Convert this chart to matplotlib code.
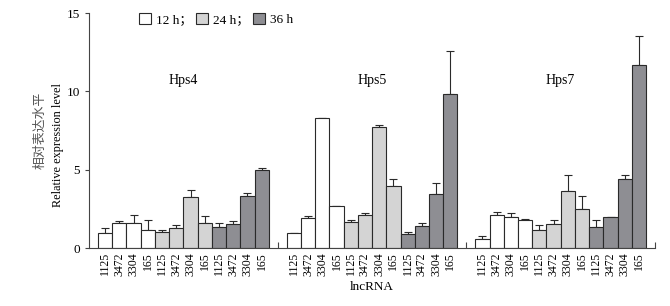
import matplotlib.pyplot as plt
from matplotlib.patches import Patch
import numpy as np

genes = ["Hps4", "Hps5", "Hps7"]
times = ["12 h；", "24 h；", "36 h"]
lncrna = ["1125", "3472", "3304", "165"]

# values per gene: 12 bars = 4 lncRNA x 3 times (12 h, 24 h, 36 h)
hps4_mean = [0.95, 1.59, 1.59, 1.17, 1.02, 1.29, 3.25, 1.59, 1.32, 1.53, 3.33, 4.99]
hps4_err = [0.32, 0.15, 0.53, 0.59, 0.10, 0.15, 0.46, 0.43, 0.27, 0.17, 0.21, 0.12]
hps5_mean = [0.95, 1.91, 8.30, 2.69, 1.63, 2.10, 7.72, 3.95, 0.91, 1.42, 3.46, 9.85]
hps5_err = [0.0, 0.11, 0.0, 0.0, 0.13, 0.13, 0.15, 0.44, 0.11, 0.17, 0.72, 2.73]
hps7_mean = [0.59, 2.10, 1.97, 1.78, 1.17, 1.53, 3.65, 2.48, 1.34, 1.99, 4.41, 11.71]
hps7_err = [0.15, 0.19, 0.24, 0.09, 0.27, 0.23, 1.00, 0.81, 0.46, 0.0, 0.26, 1.81]

means = [hps4_mean, hps5_mean, hps7_mean]
errs = [hps4_err, hps5_err, hps7_err]
colors = ["white", "#d4d4d4", "#8e8e93"]

serif = ["Liberation Serif", "Noto Sans CJK SC"]
plt.rcParams["font.family"] = serif

fig = plt.figure(figsize=(6.7, 3.06), dpi=100)
ax = fig.add_axes([0.1328, 0.1895, 0.8448, 0.768])

G = 13.25
pad = 0.63
centers = []
labels = []
for g in range(3):
    for t in range(3):
        x = [g * G + pad + 0.5 + t * 4 + i for i in range(4)]
        m = means[g][t * 4:(t + 1) * 4]
        e = errs[g][t * 4:(t + 1) * 4]
        ax.bar(x, m, width=1.0, color=colors[t], edgecolor="#2a2a2a", linewidth=0.8, zorder=2)
        ax.errorbar(x, m, yerr=[[0] * 4, e], fmt="none", ecolor="#2a2a2a",
                    elinewidth=0.8, capsize=3, capthick=0.8, zorder=1)
        centers += x
        labels += lncrna
    ax.text(g * G + G / 2, 10.7, genes[g], ha="center", va="center", fontsize=10)

ax.set_xlim(0, 3 * G)
ax.set_ylim(0, 15)
ax.set_yticks([0, 5, 10, 15])
ax.set_xticks(centers)
ax.set_xticklabels(labels, rotation=90, fontsize=8.5)
ax.set_xticks([G, 2 * G, 3 * G], minor=True)
ax.tick_params(axis="x", which="major", length=0, pad=3)
ax.tick_params(axis="x", which="minor", direction="in", length=4, width=0.8, color="#444444")
ax.tick_params(axis="y", direction="out", length=3, width=0.8, labelsize=9.5, color="#444444")
for s in ["top", "right"]:
    ax.spines[s].set_visible(False)
for s in ["left", "bottom"]:
    ax.spines[s].set_linewidth(0.8)
    ax.spines[s].set_color("#444444")

ax.set_xlabel("lncRNA", fontsize=9.5, labelpad=4)
fig.text(0.06, 0.575, "相对表达水平", rotation=90, ha="center", va="center", fontsize=9.3,
         family=["Noto Sans CJK SC", "DejaVu Sans"], color="#555555", fontweight="light")
fig.text(0.086, 0.525, "Relative expression level", rotation=90, ha="center", va="center", fontsize=8.8)

handles = [Patch(facecolor=c, edgecolor="#2a2a2a", linewidth=0.8) for c in colors]
fig.legend(handles, times, loc="center left", bbox_to_anchor=(0.19, 0.935), ncol=3, frameon=False,
           fontsize=9.5, handlelength=0.9, handleheight=0.9, handletextpad=0.35, columnspacing=0.3)

fig.savefig("out.png", dpi=100)
